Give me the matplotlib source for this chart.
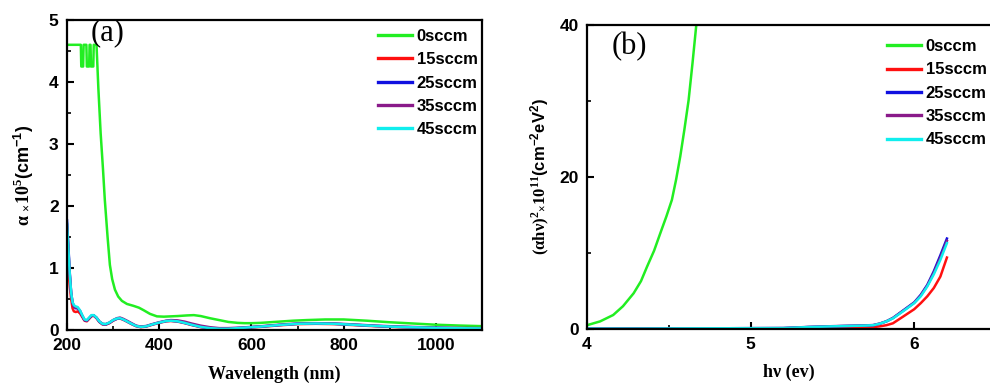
import matplotlib
matplotlib.use("Agg")
import matplotlib.pyplot as plt
from matplotlib.ticker import MultipleLocator

plt.rcParams['font.family'] = ['Liberation Sans', 'DejaVu Sans']
plt.rcParams['font.weight'] = 'bold'
plt.rcParams['mathtext.fontset'] = 'custom'
plt.rcParams['mathtext.rm'] = 'Liberation Serif:bold'
plt.rcParams['mathtext.sf'] = 'Liberation Sans:bold'
plt.rcParams['mathtext.it'] = 'Liberation Serif:italic'
plt.rcParams['mathtext.bf'] = 'Liberation Serif:bold'
plt.rcParams['mathtext.default'] = 'rm'

# ---------------- data: panel (a) ----------------
labels = ['0sccm', '15sccm', '25sccm', '35sccm', '45sccm']
colors = ['#22ee22', '#ff1010', '#1010e0', '#8a1a8a', '#10eeee']

wl_0 = [200, 230, 231, 235, 236, 242, 243, 248, 249, 251, 252, 257, 258, 264,
        268, 273, 278, 282, 288, 293, 298, 304, 311, 319, 330, 344, 356, 366,
        380, 395, 410, 425, 440, 460, 475, 490, 510, 530, 550, 570, 585, 600,
        620, 650, 690, 720, 760, 800, 850, 900, 950, 1000, 1050, 1100]
a_0 = [4.6, 4.6, 4.25, 4.25, 4.6, 4.6, 4.25, 4.25, 4.6, 4.6, 4.25, 4.25, 4.6, 4.6,
       3.9, 3.17, 2.6, 2.1, 1.5, 1.05, 0.82, 0.65, 0.54, 0.47, 0.42, 0.39, 0.36, 0.32,
       0.26, 0.22, 0.215, 0.22, 0.225, 0.235, 0.24, 0.225, 0.19, 0.16, 0.13, 0.115, 0.11, 0.11,
       0.115, 0.13, 0.15, 0.16, 0.17, 0.17, 0.15, 0.125, 0.105, 0.085, 0.072, 0.062]

wl_s = [200, 203, 206, 209, 212, 215, 219, 223, 228, 233, 238, 243, 248, 253, 258,
        264, 270, 277, 284, 292, 300, 308, 315, 322, 330, 340, 350, 360, 372, 385,
        400, 415, 425, 440, 455, 470, 490, 510, 530, 550, 580, 620, 660, 700, 740,
        780, 820, 870, 920, 970, 1030, 1100]
a_15 = [1.25, 0.95, 0.7, 0.5, 0.35, 0.30, 0.29, 0.30, 0.27, 0.21, 0.15, 0.14, 0.18, 0.22, 0.23,
        0.19, 0.13, 0.09, 0.085, 0.11, 0.15, 0.18, 0.185, 0.165, 0.135, 0.095, 0.06, 0.045, 0.055, 0.085,
        0.115, 0.14, 0.145, 0.135, 0.11, 0.08, 0.045, 0.025, 0.015, 0.015, 0.03, 0.05, 0.075, 0.095, 0.1,
        0.095, 0.08, 0.06, 0.045, 0.035, 0.025, 0.02]
a_25 = [1.77, 1.35, 0.92, 0.6, 0.44, 0.38, 0.35, 0.35, 0.31, 0.23, 0.16, 0.15, 0.19, 0.23, 0.235,
        0.195, 0.135, 0.095, 0.09, 0.115, 0.155, 0.18, 0.19, 0.17, 0.14, 0.1, 0.065, 0.05, 0.06, 0.09,
        0.12, 0.145, 0.15, 0.14, 0.115, 0.085, 0.05, 0.03, 0.02, 0.02, 0.035, 0.055, 0.08, 0.1, 0.105,
        0.1, 0.085, 0.065, 0.05, 0.04, 0.03, 0.025]
a_35 = [1.7, 1.3, 0.9, 0.6, 0.44, 0.38, 0.36, 0.36, 0.31, 0.23, 0.16, 0.15, 0.19, 0.23, 0.235,
        0.2, 0.14, 0.1, 0.095, 0.12, 0.16, 0.19, 0.2, 0.18, 0.15, 0.11, 0.07, 0.055, 0.065, 0.095,
        0.125, 0.15, 0.16, 0.155, 0.135, 0.105, 0.07, 0.045, 0.03, 0.03, 0.04, 0.06, 0.085, 0.105, 0.11,
        0.105, 0.09, 0.07, 0.055, 0.045, 0.035, 0.03]
a_45 = [1.72, 1.3, 0.9, 0.6, 0.45, 0.40, 0.38, 0.37, 0.32, 0.24, 0.17, 0.16, 0.20, 0.24, 0.24,
        0.2, 0.14, 0.1, 0.095, 0.12, 0.16, 0.185, 0.19, 0.17, 0.14, 0.1, 0.065, 0.05, 0.06, 0.09,
        0.12, 0.145, 0.15, 0.14, 0.115, 0.085, 0.05, 0.03, 0.02, 0.02, 0.035, 0.055, 0.08, 0.1, 0.105,
        0.1, 0.085, 0.065, 0.05, 0.04, 0.03, 0.025]

# ---------------- data: panel (b) ----------------
hv_0 = [4.0, 4.08, 4.16, 4.22, 4.285, 4.33, 4.367, 4.41, 4.448, 4.485, 4.519,
        4.545, 4.57, 4.595, 4.621, 4.645, 4.668, 4.69]
t_0 = [0.5, 1.0, 1.84, 3.0, 4.7, 6.3, 8.2, 10.3, 12.6, 14.8, 17.0,
       19.7, 22.7, 26.2, 30.1, 35.0, 40.0, 45.5]

hv_s = [4.0, 4.3, 4.6, 4.9, 5.2, 5.35, 5.5, 5.6, 5.7, 5.75, 5.79, 5.83, 5.87,
        5.93, 6.0, 6.04, 6.08, 6.12, 6.16, 6.2]
t_15 = [0.0, 0.02, 0.05, 0.06, 0.07, 0.08, 0.1, 0.15, 0.2, 0.25, 0.35, 0.5, 0.75,
        1.6, 2.6, 3.4, 4.3, 5.4, 6.9, 9.4]
t_25 = [0.05, 0.05, 0.08, 0.1, 0.12, 0.25, 0.35, 0.4, 0.45, 0.5, 0.7, 1.0, 1.45,
        2.4, 3.5, 4.5, 5.8, 7.6, 9.7, 11.9]
t_35 = [0.05, 0.05, 0.08, 0.1, 0.12, 0.27, 0.37, 0.42, 0.47, 0.52, 0.72, 1.02, 1.45,
        2.35, 3.45, 4.4, 5.7, 7.4, 9.4, 11.6]
t_45 = [0.05, 0.05, 0.08, 0.1, 0.12, 0.25, 0.35, 0.4, 0.45, 0.5, 0.7, 1.0, 1.4,
        2.3, 3.4, 4.3, 5.6, 7.2, 9.1, 11.3]

fig = plt.figure(figsize=(9.9, 3.87), dpi=100)
ax1 = fig.add_axes([67/990, 1-330/387, 415/990, 310/387])
ax2 = fig.add_axes([587/990, 1-329/387, 409/990, 304/387])

lw = 1.8
series_a = [(wl_0, a_0), (wl_s, a_15), (wl_s, a_25), (wl_s, a_35), (wl_s, a_45)]
for (x, y), c, l in zip(series_a, colors, labels):
    ax1.plot(x, y, color=c, lw=lw, label=l)

series_b = [(hv_0, t_0), (hv_s, t_15), (hv_s, t_25), (hv_s, t_35), (hv_s, t_45)]
for (x, y), c, l in zip(series_b, colors, labels):
    ax2.plot(x, y, color=c, lw=lw, label=l)

ax1.set_xlim(200, 1100)
ax1.set_ylim(0, 5)
ax1.xaxis.set_major_locator(MultipleLocator(200))
ax1.xaxis.set_minor_locator(MultipleLocator(100))
ax1.yaxis.set_major_locator(MultipleLocator(1))
ax1.yaxis.set_minor_locator(MultipleLocator(0.5))

ax2.set_xlim(4, 6.5)
ax2.set_ylim(0, 40)
ax2.xaxis.set_major_locator(MultipleLocator(1))
ax2.xaxis.set_minor_locator(MultipleLocator(0.5))
ax2.yaxis.set_major_locator(MultipleLocator(20))
ax2.yaxis.set_minor_locator(MultipleLocator(10))

for ax in (ax1, ax2):
    for s in ax.spines.values():
        s.set_linewidth(1.6)
    ax.tick_params(which='major', direction='in', length=5, width=1.5,
                   labelsize=12.5, pad=6)
    ax.tick_params(which='minor', direction='in', length=3, width=1.2)
    for t in ax.get_xticklabels() + ax.get_yticklabels():
        t.set_fontweight('bold')
    leg = ax.legend(frameon=False, fontsize=12, handlelength=2.0,
                    handletextpad=0.3, labelspacing=0.5, borderpad=0,
                    loc='upper left',
                    bbox_to_anchor=(0.730, 0.998) if ax is ax1 else (0.714, 0.981))
    for line in leg.get_lines():
        line.set_linewidth(2.4)

serif = {'family': 'Liberation Serif', 'weight': 'bold'}
ax1.set_xlabel('Wavelength (nm)', fontdict=dict(serif, size=13), labelpad=9)
ax2.set_xlabel('hν (ev)', fontdict=dict(serif, size=13), labelpad=9)
ax2.xaxis.set_label_coords((789-587)/409, -0.115)

ax1.set_ylabel(r'α ${}_{\times}$10$^{5}$$\mathsf{(cm^{-1})}$',
               fontdict=dict(serif, size=13), labelpad=9)
ax2.set_ylabel(r'(αhν)$^{2}$${}_{\times}$10$^{11}$$\mathsf{(cm^{-2}eV^{2})}$',
               fontdict=dict(serif, size=12), labelpad=5)

ax1.text(0.057, 0.958, '(a)', transform=ax1.transAxes, family='Liberation Serif',
         fontweight='normal', fontsize=22, va='center', ha='left')
ax2.text(0.060, 0.929, '(b)', transform=ax2.transAxes, family='Liberation Serif',
         fontweight='normal', fontsize=22, va='center', ha='left')

fig.savefig('out.png', dpi=100)
